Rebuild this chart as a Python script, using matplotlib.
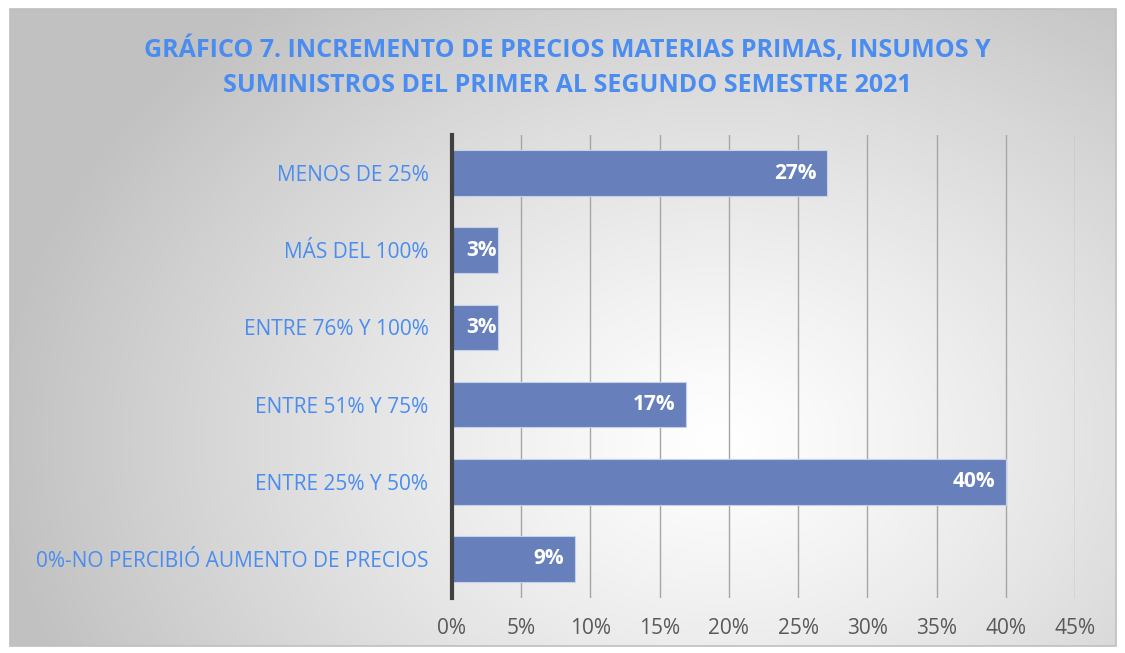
import numpy as np
import matplotlib.pyplot as plt
from matplotlib.patches import Rectangle

# data (bottom to top)
categories = ["0%-NO PERCIBIÓ AUMENTO DE PRECIOS", "ENTRE 25% Y 50%", "ENTRE 51% Y 75%",
              "ENTRE 76% Y 100%", "MÁS DEL 100%", "MENOS DE 25%"]
values = [0.089, 0.40, 0.169, 0.033, 0.033, 0.271]
xticks = [0, 0.05, 0.10, 0.15, 0.20, 0.25, 0.30, 0.35, 0.40, 0.45]

title = ("GRÁFICO 7. INCREMENTO DE PRECIOS MATERIAS PRIMAS, INSUMOS Y\n"
         "SUMINISTROS DEL PRIMER AL SEGUNDO SEMESTRE 2021")

plt.rcParams['font.family'] = ['Open Sans', 'DejaVu Sans']

W, H = 1125, 653
fig = plt.figure(figsize=(W / 100, H / 100), dpi=100)
fig.patch.set_facecolor('white')

# chart area background with radial gradient
x0, y0, x1, y1 = 10, 9, 1116, 646
bg = fig.add_axes([x0 / W, 1 - y1 / H, (x1 - x0) / W, (y1 - y0) / H])
gx, gy = np.meshgrid(np.linspace(x0, x1, 400), np.linspace(y0, y1, 240))
d = np.sqrt(((gx - 720) / 720) ** 2 + ((gy - 440) / 560) ** 2)
shade = 1.0 - 0.24 * np.clip(d, 0, 1) ** 1.2
bg.imshow(np.dstack([shade] * 3), extent=[x0, x1, y1, y0], aspect='auto')
bg.set_axis_off()
fig.patches.append(Rectangle((x0 / W, 1 - y1 / H), (x1 - x0) / W, (y1 - y0) / H,
                             transform=fig.transFigure, fill=False,
                             edgecolor='#bfbfbf', linewidth=1.2))

ax = fig.add_axes([452 / W, 1 - 597.5 / H, (1075 - 452) / W, (597.5 - 134.5) / H])
ax.patch.set_alpha(0)
y = np.arange(len(categories))
bars = ax.barh(y, values, height=0.59, color='#6780bc', edgecolor='#c5d0ea',
               linewidth=0.8, zorder=3)
ax.set_xlim(0, 0.45)
ax.set_ylim(-0.5, len(categories) - 0.5)
ax.set_xticks(xticks)
ax.set_xticklabels([f"{int(round(t * 100))}%" for t in xticks], color='#595959', fontsize=15)
ax.set_yticks(y)
ax.set_yticklabels(categories, color='#4a8cf0', fontsize=15)
ax.tick_params(axis='both', length=0)
ax.tick_params(axis='x', pad=15)
ax.tick_params(axis='y', pad=17)
ax.grid(axis='x', color='#a6a6a6', linewidth=1.0, zorder=0)
for s in ['top', 'right', 'bottom']:
    ax.spines[s].set_visible(False)
ax.spines['left'].set_color('#404040')
ax.spines['left'].set_linewidth(3)
ax.spines['left'].set_zorder(4)

# inside-end labels; narrow bars get the label pushed to the bar end
for b, v in zip(bars, values):
    off = -11 if v > 0.05 else -1
    ax.annotate(f"{int(round(v * 100))}%", (v, b.get_y() + b.get_height() / 2),
                xytext=(off, 0), textcoords='offset pixels',
                ha='right', va='center', color='white', fontsize=15, fontweight='bold', zorder=5)

fig.text(567 / W, 1 - 67 / H, title, ha='center', va='center', color='#4a8cf0',
         fontsize=18, fontweight='bold', linespacing=1.5)

fig.savefig('out.png', dpi=100)
